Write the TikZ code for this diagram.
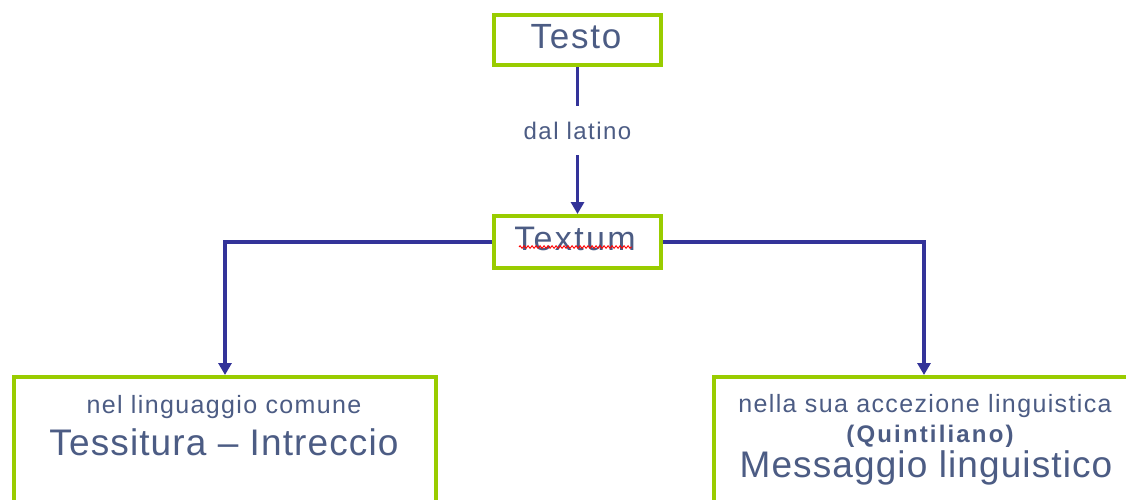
\documentclass[tikz,border=0pt]{standalone}
\usepackage{fontspec}
\setmainfont{Liberation Sans}
\newfontfamily\bigf[LetterSpace=3]{Liberation Sans}
\newfontfamily\testof[LetterSpace=5]{Liberation Sans}
\newfontfamily\textumf[LetterSpace=7]{Liberation Sans}
\newfontfamily\smallf[LetterSpace=5.5]{Liberation Sans}
\newfontfamily\dalf[LetterSpace=6]{Liberation Sans}
\newfontfamily\boldf[LetterSpace=9]{Liberation Sans Bold}
\usetikzlibrary{arrows.meta,decorations.pathmorphing}
\definecolor{txtc}{RGB}{76,92,132}
\definecolor{boxg}{RGB}{153,204,0}
\definecolor{arrc}{RGB}{51,51,153}
\tikzset{
  gbox/.style={draw=boxg, line width=4pt, fill=white, inner sep=0pt},
  conn/.style={draw=arrc, line width=3.5pt},
  arr/.style={conn, -{Triangle[width=13pt,length=12pt]}},
  txt/.style={text=txtc, inner sep=0pt, anchor=base},
  bigb/.style={txt, font=\bigf\fontsize{37}{40}\selectfont},
  smt/.style={txt, font=\smallf\fontsize{25}{28}\selectfont},
}
\begin{document}
\begin{tikzpicture}[x=1pt,y=-1pt]
\useasboundingbox (0,0) rectangle (1126,499);
\clip (0,0) rectangle (1126,499);
\fill[white] (0,0) rectangle (1126,499);
% boxes
\node[gbox, minimum width=167pt, minimum height=50pt] (testo) at (577.5,40) {};
\node[gbox, minimum width=167pt, minimum height=52pt] (textum) at (577.5,242) {};
\node[gbox, minimum width=422pt, minimum height=170pt, anchor=north] (lbox) at (225,375) {};
\node[gbox, minimum width=420pt, minimum height=170pt, anchor=north] (rbox) at (924,375) {};
% texts
\node[txt, font=\testof\fontsize{35}{40}\selectfont] (ttesto) at (576,48.3) {Testo};
\node[txt, font=\textumf\fontsize{34}{40}\selectfont] (ttextum) at (575,250) {Textum};
\draw[red, line width=0.9pt, decorate, decoration={zigzag, segment length=4pt, amplitude=1.3pt}]
  ([xshift=5pt,yshift=3pt]ttextum.base west) -- ([xshift=-4pt,yshift=3pt]ttextum.base east);
\node[text=txtc, font=\dalf\fontsize{24}{28}\selectfont, inner sep=0pt, minimum height=49pt] (lbl) at (577.5,130.5) {dal latino};
\node[smt] (l1) at (224,413) {nel linguaggio comune};
\node[bigb] (l2) at (224,455) {Tessitura – Intreccio};
\node[smt] (r1) at (925,412) {nella sua accezione linguistica};
\node[txt, font=\boldf\fontsize{24}{28}\selectfont] (r2) at (930,442) {(Quintiliano)};
\node[bigb] (r3) at (926,477) {Messaggio linguistico};
% connectors
\draw[conn] (testo.south) -- (lbl.north);
\draw[arr] (lbl.south) -- (textum.north);
\draw[arr] (textum.west) -| (lbox.north);
\draw[arr] (textum.east) -| (rbox.north);
\end{tikzpicture}
\end{document}
